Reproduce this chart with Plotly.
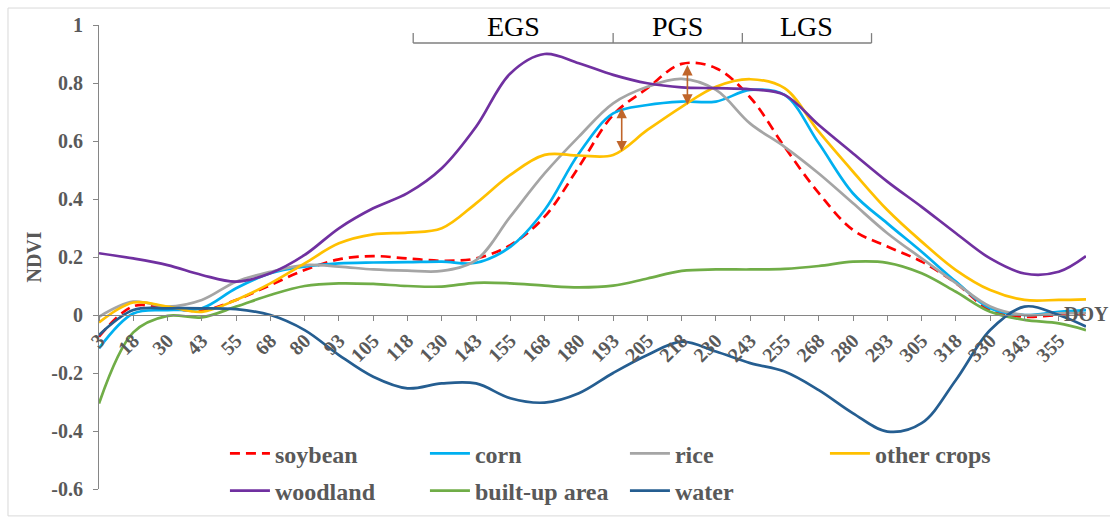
import numpy as np
import plotly.graph_objects as go

# ---------------- data ----------------
doy_labels = ["3", "18", "30", "43", "55", "68", "80", "93", "105", "118", "130",
              "143", "155", "168", "180", "193", "205", "218", "230", "243", "255",
              "268", "280", "293", "305", "318", "330", "343", "355"]
sample_doy = [3, 18, 30, 43, 55, 68, 80, 93, 105, 118, 130, 143, 155, 168, 180,
              193, 205, 218, 230, 243, 255, 268, 280, 293, 305, 318, 330, 343, 355, 365]

soybean = [-0.075, 0.030, 0.023, 0.015, 0.052, 0.103, 0.155, 0.192, 0.203, 0.195,
           0.187, 0.195, 0.241, 0.339, 0.511, 0.690, 0.782, 0.866, 0.851, 0.750,
           0.580, 0.420, 0.293, 0.236, 0.184, 0.110, 0.017, -0.006, 0.000, 0.003]
corn = [-0.115, 0.005, 0.017, 0.023, 0.092, 0.144, 0.167, 0.178, 0.181, 0.182,
        0.184, 0.180, 0.235, 0.362, 0.557, 0.695, 0.724, 0.736, 0.736, 0.776,
        0.759, 0.592, 0.419, 0.316, 0.218, 0.115, 0.023, 0.000, 0.011, 0.017]
rice = [-0.006, 0.046, 0.029, 0.052, 0.115, 0.149, 0.172, 0.167, 0.157, 0.153,
        0.152, 0.189, 0.339, 0.488, 0.615, 0.730, 0.787, 0.814, 0.776, 0.660,
        0.580, 0.488, 0.385, 0.282, 0.195, 0.110, 0.029, 0.000, 0.006, 0.006]
other_crops = [-0.026, 0.043, 0.029, 0.011, 0.052, 0.109, 0.178, 0.247, 0.278, 0.284,
               0.299, 0.385, 0.483, 0.552, 0.550, 0.552, 0.638, 0.718, 0.787, 0.813,
               0.782, 0.632, 0.494, 0.362, 0.253, 0.155, 0.086, 0.052, 0.052, 0.054]
woodland = [0.213, 0.195, 0.172, 0.138, 0.115, 0.144, 0.207, 0.299, 0.368, 0.420,
            0.506, 0.649, 0.833, 0.900, 0.868, 0.828, 0.799, 0.785, 0.782, 0.778,
            0.759, 0.655, 0.557, 0.460, 0.373, 0.282, 0.195, 0.143, 0.149, 0.203]
built_up = [-0.305, -0.060, -0.003, -0.008, 0.029, 0.069, 0.100, 0.109, 0.107, 0.100,
            0.098, 0.111, 0.109, 0.101, 0.095, 0.101, 0.126, 0.152, 0.157, 0.157,
            0.159, 0.169, 0.184, 0.180, 0.144, 0.080, 0.011, -0.017, -0.029, -0.052]
water = [-0.069, 0.017, 0.023, 0.023, 0.020, 0.000, -0.052, -0.138, -0.213, -0.253,
         -0.236, -0.236, -0.287, -0.302, -0.270, -0.200, -0.138, -0.092, -0.126, -0.166,
         -0.195, -0.259, -0.339, -0.402, -0.373, -0.224, -0.052, 0.029, 0.000, -0.040]

series_names = ["soybean", "corn", "rice", "other crops", "woodland", "built-up area", "water"]
series_colors = ["#FF0000", "#00B0F0", "#A5A5A5", "#FFC000", "#7030A0", "#70AD47", "#255E91"]

stage_names = ["EGS", "PGS", "LGS"]
stage_bounds_doy = [120, 193, 240, 287]

arrow_doy = [196, 220]
arrow_low = [0.559, 0.720]
arrow_high = [0.714, 0.862]

y_ticks = [1, 0.8, 0.6, 0.4, 0.2, 0, -0.2, -0.4, -0.6]
y_ticktext = ["1", "0.8", "0.6", "0.4", "0.2", "0", "-0.2", "-0.4", "-0.6"]

# ---------------- helpers ----------------
label_doy = [int(v) for v in doy_labels]
step = (label_doy[-1] - label_doy[0]) / (len(label_doy) - 1)


def doy_to_pos(d):
    d = np.asarray(d, dtype=float)
    pos = np.interp(d, label_doy, np.arange(len(label_doy)))
    pos = np.where(d > label_doy[-1], len(label_doy) - 1 + (d - label_doy[-1]) / step, pos)
    return pos


xpos = doy_to_pos(sample_doy)
x_end = float(xpos[-1])

font_fam = "Liberation Serif, Times New Roman, serif"
gray_txt = "#595959"
axis_col = "#868686"

fig = go.Figure()
all_series = [soybean, corn, rice, other_crops, woodland, built_up, water]
for i, (nm, vals, col) in enumerate(zip(series_names, all_series, series_colors)):
    fig.add_trace(go.Scatter(
        x=xpos, y=vals, mode="lines", name=nm,
        line=dict(color=col, width=2.7, shape="spline", smoothing=1,
                  dash="10px,6px" if nm == "soybean" else "solid"),
        legend="legend" if i < 4 else "legend2",
        hoverinfo="skip",
    ))

# stage bracket
sb = doy_to_pos(stage_bounds_doy)
y_br, y_br_top = 0.938, 0.972
fig.add_shape(type="line", xref="x", yref="y", x0=sb[0], x1=sb[-1], y0=y_br, y1=y_br,
              line=dict(color="#7F7F7F", width=1.3))
for b in sb:
    fig.add_shape(type="line", xref="x", yref="y", x0=b, x1=b, y0=y_br, y1=y_br_top,
                  line=dict(color="#7F7F7F", width=1.3))
for i, nm in enumerate(stage_names):
    fig.add_annotation(x=(sb[i] + sb[i + 1]) / 2, y=0.994, xref="x", yref="y",
                       text=nm, showarrow=False, yanchor="middle",
                       font=dict(family=font_fam, size=28, color="#000000"))

# double-headed arrows
ap = doy_to_pos(arrow_doy)
for xp, lo, hi in zip(ap, arrow_low, arrow_high):
    fig.add_annotation(x=xp, y=hi, ax=xp, ay=lo, xref="x", yref="y", axref="x", ayref="y",
                       text="", showarrow=True, arrowhead=2, arrowside="end+start",
                       arrowsize=1.3, arrowwidth=1.6, arrowcolor="#C0652A", standoff=0,
                       startstandoff=0)

# DOY label
fig.add_annotation(x=0.976, y=0.004, xref="paper", yref="y", text="DOY", showarrow=False,
                   xanchor="left", yanchor="middle",
                   font=dict(family=font_fam, size=20, color=gray_txt, weight="bold"))

# outer frame
fig.add_shape(type="rect", xref="paper", yref="paper", x0=-0.0922, x1=1.05, y0=-0.058, y1=1.0366,
              line=dict(color="#D9D9D9", width=1), fillcolor="rgba(0,0,0,0)", layer="below")

legend_common = dict(orientation="h", xanchor="left", yanchor="middle",
                     entrywidth=145, entrywidthmode="pixels", itemwidth=40,
                     bgcolor="rgba(0,0,0,0)", traceorder="normal",
                     font=dict(family=font_fam, size=24, color=gray_txt, weight="bold"))

fig.update_layout(
    width=1110, height=518,
    margin=dict(l=99, r=24, t=25, b=29, autoexpand=False),
    paper_bgcolor="white", plot_bgcolor="white",
    showlegend=True,
    legend=dict(x=0.1276, y=0.076, **legend_common),
    legend2=dict(x=0.1276, y=-0.0045, **legend_common),
    xaxis=dict(range=[0, x_end], tickvals=list(range(len(doy_labels))), ticktext=doy_labels,
               tickangle=-45, anchor="free", position=0.6 / 1.6,
               showline=True, linecolor=axis_col, linewidth=1,
               ticks="outside", ticklen=5, tickcolor=axis_col,
               showgrid=False, zeroline=False,
               tickfont=dict(family=font_fam, size=20, color=gray_txt, weight="bold")),
    yaxis=dict(range=[-0.6, 1], tickvals=y_ticks, ticktext=y_ticktext,
               showline=True, linecolor=axis_col, linewidth=1,
               ticks="outside", ticklen=5, tickcolor=axis_col,
               showgrid=False, zeroline=False, ticklabelstandoff=6,
               tickfont=dict(family=font_fam, size=20, color=gray_txt, weight="bold"),
               title=dict(text="NDVI", standoff=4,
                          font=dict(family=font_fam, size=20, color=gray_txt, weight="bold"))),
)

fig.write_html("out.html")
